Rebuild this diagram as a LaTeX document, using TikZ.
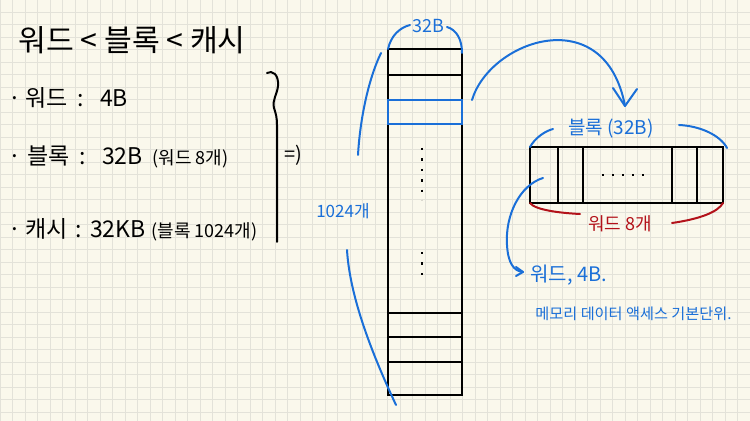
\documentclass[tikz,border=0pt]{standalone}
\usepackage{fontspec}
\setmainfont{Noto Sans CJK KR}
\definecolor{paper}{HTML}{FAF8EC}
\definecolor{gridc}{HTML}{E3E2D9}
\definecolor{pen}{HTML}{1A6FD8}
\definecolor{redpen}{HTML}{B3121A}
\newcommand{\smallpart}[1]{{\fontsize{9}{11}\selectfont #1}}
\begin{document}
\begin{tikzpicture}[x=0.5pt,y=-0.5pt,
  gridline/.style={draw=gridc,line width=0.5pt},
  ink/.style={draw=black,line width=1pt},
  blueink/.style={draw=pen,line width=1pt,line cap=round},
  redink/.style={draw=redpen,line width=1pt,line cap=round},
  itemtxt/.style={anchor=west,inner sep=0pt,font=\fontsize{11.5}{13}\selectfont},
  bluetxt/.style={text=pen,inner sep=0pt},
  dotline/.style={draw=black,line width=1.2pt,dash pattern=on 1.2pt off 4pt}]
\useasboundingbox (0,0) rectangle (750,421);
\fill[paper] (0,0) rectangle (750,421);
\foreach \gx in {0,12.5,...,750} \draw[gridline] (\gx,0) -- (\gx,421);
\foreach \gy in {0,12.5,...,421} \draw[gridline] (0,\gy) -- (750,\gy);

% left texts
\node[anchor=west,inner sep=0pt,font=\fontsize{15.1}{18}\selectfont] (title) at (18,40) {워드 < 블록 < 캐시};
\node[itemtxt] (iw) at (8,98) {·\hspace{2pt}워드\hspace{5pt}:\hspace{8pt}4B};
\node[itemtxt] (ib) at (8,157) {·\hspace{3pt}블록\hspace{5pt}:\hspace{8pt}32B\hspace{5pt}\smallpart{(워드 8개)}};
\node[itemtxt] (ic) at (8,230) {·\hspace{2pt}캐시\hspace{4pt}:\hspace{4pt}32KB\hspace{3pt}\smallpart{(블록 1024개)}};

% brace
\coordinate (br0) at (267,73);
\coordinate (br1) at (277,242);
\draw[ink,line cap=round] (br0) .. controls (272,70) and (279,74) .. (278,86)
  .. controls (277,95) and (272,100) .. (274,108)
  .. controls (276,114) and (277,118) .. (277,125) -- (br1);
\node[inner sep=0pt,font=\fontsize{10}{12}\selectfont] (impl) at (293,155) {=)};

% cache column
\coordinate (c1) at (388,49);
\coordinate (c2) at (462,395);
\draw[ink] (c1) rectangle (c2);
\draw[ink] (388,75) -- (462,75);
\draw[ink] (388,313) -- (462,313);
\draw[ink] (388,337) -- (462,337);
\draw[ink] (388,362) -- (462,362);
\draw[draw=pen,line width=1pt] (388,100) rectangle (462,124);
\draw[dotline] (422,148) -- (422,200);
\draw[dotline] (422,252) -- (422,278);

\node[bluetxt,font=\fontsize{9}{11}\selectfont] (l32) at (428,26) {32B};
\draw[blueink] (c1) .. controls (391,36) and (399,28) .. (410,25);
\draw[blueink] (447,27) .. controls (457,30) and (462,40) .. (462,53);

\node[bluetxt,font=\fontsize{8.5}{10}\selectfont] (l1024) at (343,211) {1024개};
\draw[blueink] (381,53) .. controls (368,80) and (360,120) .. (358,155);
\draw[blueink] (347,250) .. controls (350,300) and (375,360) .. (396,405);

% big arrow
\coordinate (a0) at (472,100);
\coordinate (a1) at (625,106);
\draw[blueink] (a0) .. controls (490,40) and (605,0) .. (a1);
\draw[blueink,line join=round] (613,88) -- (a1) -- (637,89);

% block
\coordinate (b1) at (530,147);
\coordinate (b2) at (723,203);
\draw[ink] (b1) rectangle (b2);
\foreach \bx in {558,583,672,697} \draw[ink] (\bx,147) -- (\bx,203);
\draw[draw=black,line width=1.2pt,dash pattern=on 1.2pt off 3.8pt] (602,175) -- (646,175);

\node[bluetxt,font=\fontsize{9.5}{11}\selectfont] (lblk) at (611,129) {블록 (32B)};
\draw[blueink] (b1) .. controls (535,138) and (545,131) .. (553,129);
\draw[blueink] (679,125) .. controls (700,126) and (720,135) .. (727,148);

\draw[redink] (530,203) .. controls (535,210) and (560,213) .. (580,214);
\draw[redink] (672,223) .. controls (700,219) and (718,212) .. (723,203);
\node[text=redpen,inner sep=0pt,font=\fontsize{9}{11}\selectfont] (lw8) at (620,224) {워드 8개};

% small arrow and notes
\coordinate (s0) at (543,178);
\coordinate (s1) at (523,272);
\draw[blueink] (s0) .. controls (520,185) and (505,215) .. (507,245)
  .. controls (508,262) and (513,271) .. (s1);
\draw[blueink,line join=round] (516,267) -- (s1) -- (516,276);
\node[bluetxt,anchor=west,font=\fontsize{10}{12}\selectfont] (nw) at (530,275) {워드, 4B.};
\node[bluetxt,anchor=west,font=\fontsize{7.6}{9}\selectfont] (nm) at (535,314) {메모리 데이터 액세스 기본단위.};
\end{tikzpicture}
\end{document}
